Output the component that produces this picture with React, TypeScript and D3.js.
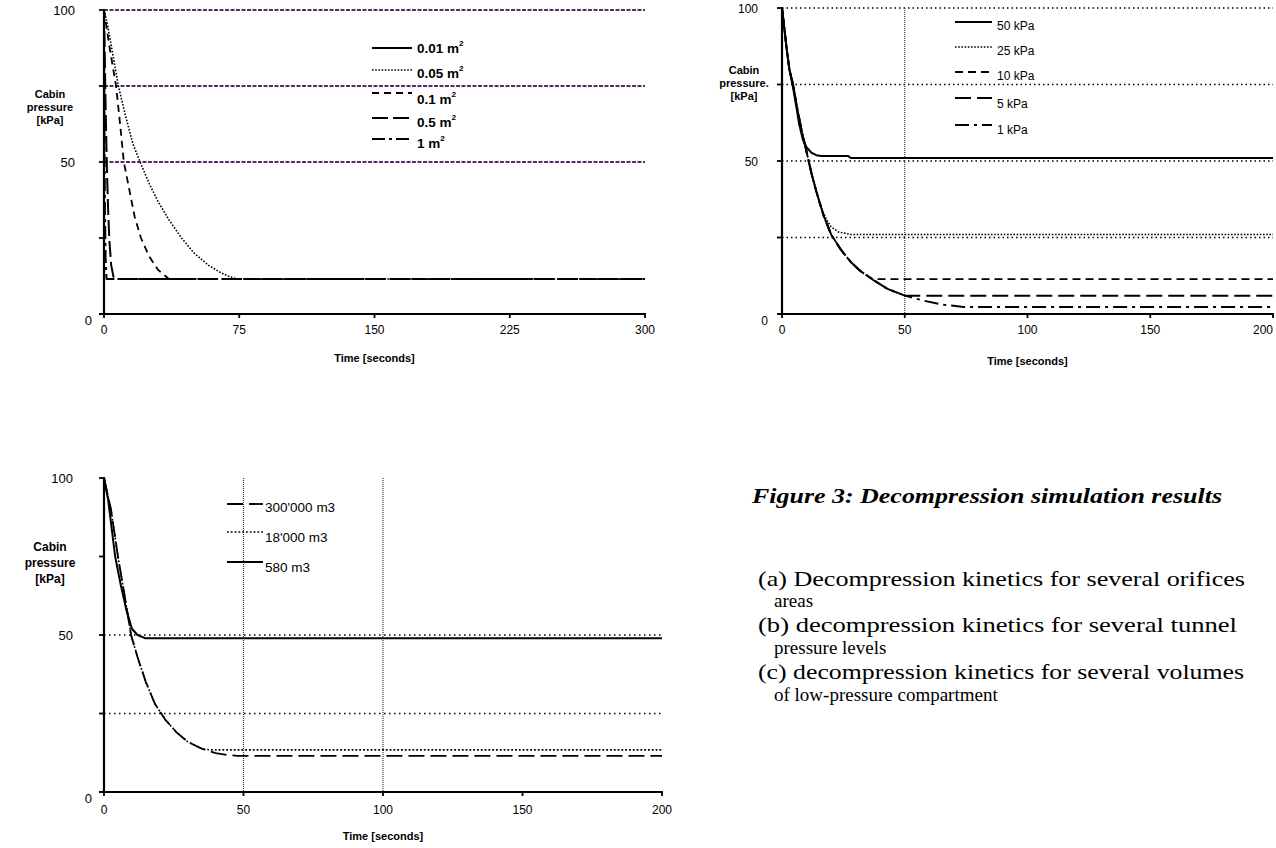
import React from "react";
import * as d3 from "d3";

type Pt = [number, number];

const SANS = "'Liberation Sans', Arial, sans-serif";
const SERIF = "'Liberation Serif', 'Times New Roman', serif";

// ---------------- Panel (a): several orifice areas ----------------
const aXTicks = [0, 75, 150, 225, 300];
const aYTicks = [0, 25, 50, 75, 100];
const aYTickLabels = [0, 50, 100];
const aGridLevels = [50, 75, 100];
const aLegendLabels = ["0.01 m", "0.05 m", "0.1 m", "0.5 m", "1 m"];
const a001: Pt[] = [];
const a005: Pt[] = [[0, 100], [2, 95], [5, 85], [8, 75], [12, 65], [16, 56], [20, 50], [25, 43], [30, 37], [36, 31], [43, 25], [50, 20], [58, 16], [65, 13.5], [70, 12.2], [74, 11.5], [300, 11.5]];
const a01: Pt[] = [[0, 100], [3, 88], [6.7, 75], [9, 62], [11, 50], [14, 41], [17, 32], [20.5, 25], [25, 19], [30, 14.5], [36, 11.5], [300, 11.5]];
const a05: Pt[] = [[0, 100], [0.5, 82], [1, 65], [1.6, 48], [2.3, 34], [3, 24], [4, 16], [5.5, 11.5], [300, 11.5]];
const a1: Pt[] = [[0, 100], [0.2, 65], [0.5, 35], [0.9, 18], [1.4, 11.5], [300, 11.5]];

// ---------------- Panel (b): several tunnel pressure levels ----------------
const bXTicks = [0, 50, 100, 150, 200];
const bYTicks = [0, 25, 50, 75, 100];
const bYTickLabels = [0, 50, 100];
const bGridLevels = [25, 50, 75, 100];
const bGridTimes = [50];
const bLegendLabels = ["50 kPa", "25 kPa", "10 kPa", "5 kPa", "1 kPa"];
const b50: Pt[] = [[0, 100], [1, 93], [2, 86], [3, 80], [4.5, 74], [6, 67], [7, 62], [8.5, 57], [10, 54.5], [12, 52.7], [14, 51.9], [16, 51.6], [27, 51.6], [28, 51], [200, 51]];
const b25: Pt[] = [[0, 100], [1, 93], [2, 86], [3, 80], [4.5, 75], [6, 68], [8, 60], [10, 53], [12, 46], [14, 40], [16, 35], [18, 31], [20, 28.5], [23, 26.8], [28, 26], [200, 26]];
const b10: Pt[] = [[0, 100], [1, 93], [2, 86], [3, 80], [4.5, 75], [6, 68], [8, 60], [10, 53], [12, 46], [14, 40], [17, 32], [20, 26], [24, 21], [28, 17], [32, 14], [37, 11.4], [200, 11.4]];
const b5: Pt[] = [[0, 100], [1, 93], [2, 86], [3, 80], [4.5, 75], [6, 68], [8, 60], [10, 53], [12, 46], [14, 40], [17, 32], [20, 26], [24, 21], [28, 17], [32, 14], [37, 11.2], [43, 8.2], [50, 6], [200, 6]];
const b1: Pt[] = [[0, 100], [1, 93], [2, 86], [3, 80], [4.5, 75], [6, 68], [8, 60], [10, 53], [12, 46], [14, 40], [17, 32], [20, 26], [24, 21], [28, 17], [32, 14], [37, 11.2], [43, 8.2], [50, 6], [58, 4.3], [66, 3], [74, 2.3], [200, 2.3]];

// ---------------- Panel (c): several compartment volumes ----------------
const cXTicks = [0, 50, 100, 150, 200];
const cYTicks = [0, 25, 50, 75, 100];
const cYTickLabels = [0, 50, 100];
const cGridLevels = [25, 50];
const cGridTimes = [50, 100];
const cLegendLabels = ["300'000 m3", "18'000 m3", "580 m3"];
const c300000: Pt[] = [[0, 100], [2.5, 90], [5, 75], [7.5, 62], [9.7, 50], [12, 43], [15, 35], [18.3, 28], [22, 23], [26, 19], [30, 16], [35, 13.8], [40, 12.4], [44, 11.8], [48, 11.5], [200, 11.5]];
const c18000: Pt[] = [[0, 100], [2.5, 90], [5, 75], [7.5, 62], [9.7, 50], [12, 43], [15, 35], [18.3, 28], [22, 23], [26, 19], [30, 16], [35, 13.8], [38, 13.4], [200, 13.4]];
const c580: Pt[] = [[0, 100], [1.5, 93], [4, 75], [6, 66], [8, 58], [10, 52], [12, 50], [14.7, 49], [200, 49]];

// ---------------- Caption ----------------
const captionTitle = "Figure 3: Decompression simulation results";
const captionLines = [
  "(a) Decompression kinetics  for several orifices",
  "areas",
  "(b) decompression kinetics for several tunnel",
  "pressure levels",
  "(c) decompression kinetics for several volumes",
  "of low-pressure compartment",
];

interface Style { dash: string; width: number; color?: string }
interface LegendRow { label: string; sup?: string; style: Style; ly: number; ty: number }

interface PanelCfg {
  id: string;
  left: number; right: number; top: number; bottom: number;
  xMax: number;
  xTicks: number[]; yTicks: number[]; yTickLabels: number[];
  hGrid: number[]; hGridStyle: Style;
  vGrid: number[]; vGridStyle: Style;
  series: { data: Pt[]; style: Style }[];
  yLabel: string[]; yLabelX: number; yLabelY0: number; yLabelDy: number; yLabelSize: number;
  xLabel: string; xLabelY: number; xLabelSize: number;
  legend: LegendRow[]; legX0: number; legX1: number; legTextX: number;
  legSize: number; legBold: boolean;
  tickSize: number; yTickSize: number; xTickDy: number; yLabelOff: number; zeroOff: number; lastTickEnd?: boolean;
}

function Panel({ c }: { c: PanelCfg }) {
  const x = d3.scaleLinear().domain([0, c.xMax]).range([c.left, c.right]);
  const y = d3.scaleLinear().domain([0, 100]).range([c.bottom, c.top]);
  const line = d3.line<Pt>().x((d) => x(d[0])).y((d) => y(d[1]));
  const clipId = "clip-" + c.id;
  return (
    <g>
      <defs>
        <clipPath id={clipId}>
          <rect x={c.left} y={c.top - 2} width={c.right - c.left + 2} height={c.bottom - c.top + 2} />
        </clipPath>
      </defs>
      {c.hGrid.map((v) => (
        <line key={"h" + v} x1={x(0)} x2={x(c.xMax)} y1={y(v)} y2={y(v)}
          stroke={c.hGridStyle.color || "#000"} strokeWidth={c.hGridStyle.width} strokeDasharray={c.hGridStyle.dash} />
      ))}
      {c.vGrid.map((v) => (
        <line key={"v" + v} x1={x(v)} x2={x(v)} y1={y(100)} y2={y(0)}
          stroke={c.vGridStyle.color || "#000"} strokeWidth={c.vGridStyle.width} strokeDasharray={c.vGridStyle.dash} />
      ))}
      <g clipPath={`url(#${clipId})`}>
        {c.series.map((s, i) => s.data.length > 0 && (
          <path key={i} d={line(s.data) || ""} fill="none" stroke="#000"
            strokeWidth={s.style.width} strokeDasharray={s.style.dash} strokeLinejoin="round" />
        ))}
      </g>
      <line x1={x(0)} x2={x(0)} y1={y(100) - 1} y2={y(0) + 1} stroke="#000" strokeWidth={2.2} />
      <line x1={x(0) - 5} x2={x(c.xMax) + 1} y1={y(0)} y2={y(0)} stroke="#000" strokeWidth={2.2} />
      {c.yTicks.map((v) => (
        <line key={"yt" + v} x1={x(0) - 5} x2={x(0)} y1={y(v)} y2={y(v)} stroke="#000" strokeWidth={1.8} />
      ))}
      {c.xTicks.map((v) => (
        <line key={"xt" + v} x1={x(v)} x2={x(v)} y1={y(0)} y2={y(0) + 4} stroke="#000" strokeWidth={1.8} />
      ))}
      {c.yTickLabels.map((v) => (
        <text key={"yl" + v} x={x(0) - (v === 0 ? c.zeroOff : c.yLabelOff)} y={y(v) + (v === 0 ? 11 : 5)} textAnchor="end"
          fontFamily={SANS} fontSize={c.yTickSize} fill="#000">{v}</text>
      ))}
      {c.xTicks.map((v, i) => {
        const isLast = c.lastTickEnd && i === c.xTicks.length - 1;
        return (
          <text key={"xl" + v} x={x(v)} y={y(0) + c.xTickDy} textAnchor={isLast ? "end" : "middle"}
            fontFamily={SANS} fontSize={c.tickSize} fill="#000">{v}</text>
        );
      })}
      {c.yLabel.map((t, i) => (
        <text key={"ylab" + i} x={c.yLabelX} y={c.yLabelY0 + i * c.yLabelDy} textAnchor="middle" fontFamily={SANS}
          fontWeight="bold" fontSize={c.yLabelSize} fill="#000">{t}</text>
      ))}
      <text x={(c.left + c.right) / 2} y={c.xLabelY} textAnchor="middle" fontFamily={SANS} fontWeight="bold"
        fontSize={c.xLabelSize} fill="#000">{c.xLabel}</text>
      {c.legend.map((r, i) => (
        <g key={"lg" + i}>
          <line x1={c.legX0} x2={c.legX1} y1={r.ly} y2={r.ly} stroke="#000" strokeWidth={r.style.width} strokeDasharray={r.style.dash} />
          <text x={c.legTextX} y={r.ty} fontFamily={SANS} fontSize={c.legSize} fontWeight={c.legBold ? "bold" : "normal"} fill="#000">
            {r.label}
            {r.sup && <tspan fontSize={c.legSize * 0.6} dy={-7}>{r.sup}</tspan>}
          </text>
        </g>
      ))}
    </g>
  );
}

const solid: Style = { dash: "none", width: 2 };
const dotted: Style = { dash: "1.6,1.6", width: 1.6 };
const dashed: Style = { dash: "7,5", width: 1.8 };
const longDash: Style = { dash: "16,5", width: 2 };
const dashDot: Style = { dash: "13,4,3,4", width: 2 };

const panelA: PanelCfg = {
  id: "a", left: 104, right: 645, top: 10, bottom: 314, xMax: 300,
  xTicks: aXTicks, yTicks: aYTicks, yTickLabels: aYTickLabels,
  hGrid: aGridLevels, hGridStyle: { dash: "4,1.5", width: 2, color: "#5b2d66" },
  vGrid: [], vGridStyle: solid,
  series: [
    { data: a001, style: solid },
    { data: a005, style: dotted },
    { data: a01, style: dashed },
    { data: a05, style: longDash },
    { data: a1, style: dashDot },
  ],
  yLabel: ["Cabin", "pressure", "[kPa]"], yLabelX: 50, yLabelY0: 98, yLabelDy: 13, yLabelSize: 11,
  xLabel: "Time [seconds]", xLabelY: 362, xLabelSize: 11,
  legend: [
    { label: aLegendLabels[0], sup: "2", style: solid, ly: 48, ty: 53 },
    { label: aLegendLabels[1], sup: "2", style: dotted, ly: 70, ty: 78 },
    { label: aLegendLabels[2], sup: "2", style: dashed, ly: 93, ty: 104 },
    { label: aLegendLabels[3], sup: "2", style: longDash, ly: 118, ty: 127 },
    { label: aLegendLabels[4], sup: "2", style: dashDot, ly: 139, ty: 148 },
  ],
  legX0: 372, legX1: 412, legTextX: 417, legSize: 13.5, legBold: true,
  tickSize: 12, yTickSize: 13, xTickDy: 20, yLabelOff: 29, zeroOff: 12,
};

const panelB: PanelCfg = {
  id: "b", left: 782, right: 1273, top: 8, bottom: 314, xMax: 200,
  xTicks: bXTicks, yTicks: bYTicks, yTickLabels: bYTickLabels,
  hGrid: bGridLevels, hGridStyle: { dash: "1.5,3", width: 1.3 },
  vGrid: bGridTimes, vGridStyle: { dash: "1,1", width: 1.2, color: "#333" },
  series: [
    { data: b50, style: solid },
    { data: b25, style: dotted },
    { data: b10, style: { dash: "8,5", width: 1.8 } },
    { data: b5, style: { dash: "16,6", width: 2 } },
    { data: b1, style: { dash: "14,5,3,5", width: 2 } },
  ],
  yLabel: ["Cabin", "pressure.", "[kPa]"], yLabelX: 744, yLabelY0: 74, yLabelDy: 13, yLabelSize: 11,
  xLabel: "Time [seconds]", xLabelY: 365, xLabelSize: 11,
  legend: [
    { label: bLegendLabels[0], style: solid, ly: 22, ty: 30 },
    { label: bLegendLabels[1], style: dotted, ly: 47, ty: 55 },
    { label: bLegendLabels[2], style: { dash: "8,5", width: 1.8 }, ly: 72, ty: 80 },
    { label: bLegendLabels[3], style: { dash: "16,6", width: 2 }, ly: 98, ty: 108 },
    { label: bLegendLabels[4], style: { dash: "14,5,3,5", width: 2 }, ly: 125, ty: 134 },
  ],
  legX0: 955, legX1: 992, legTextX: 997, legSize: 12, legBold: false,
  tickSize: 12, yTickSize: 12, xTickDy: 20, yLabelOff: 24, zeroOff: 14, lastTickEnd: true,
};

const panelC: PanelCfg = {
  id: "c", left: 104, right: 662, top: 478, bottom: 792, xMax: 200,
  xTicks: cXTicks, yTicks: cYTicks, yTickLabels: cYTickLabels,
  hGrid: cGridLevels, hGridStyle: { dash: "1.5,3.5", width: 1.3 },
  vGrid: cGridTimes, vGridStyle: { dash: "1,1", width: 1.2, color: "#333" },
  series: [
    { data: c300000, style: { dash: "16,6", width: 1.8 } },
    { data: c18000, style: { dash: "1.8,2", width: 1.6 } },
    { data: c580, style: solid },
  ],
  yLabel: ["Cabin", "pressure", "[kPa]"], yLabelX: 50, yLabelY0: 551, yLabelDy: 16, yLabelSize: 12,
  xLabel: "Time [seconds]", xLabelY: 840, xLabelSize: 11,
  legend: [
    { label: cLegendLabels[0], style: { dash: "16,6", width: 1.8 }, ly: 504, ty: 512 },
    { label: cLegendLabels[1], style: { dash: "1.8,2", width: 1.6 }, ly: 532, ty: 542 },
    { label: cLegendLabels[2], style: solid, ly: 562, ty: 572 },
  ],
  legX0: 227, legX1: 263, legTextX: 265, legSize: 13.5, legBold: false,
  tickSize: 12, yTickSize: 13, xTickDy: 22, yLabelOff: 31, zeroOff: 12,
};

export default function App() {
  const lineY = [586, 607, 632, 654, 679, 701];
  const lineLen = [487, 0, 479, 0, 486, 0];
  return (
    <svg width={1276} height={848} viewBox="0 0 1276 848"
      style={{ position: "absolute", left: 0, top: 0, background: "#fff" }}>
      <rect x={0} y={0} width={1276} height={848} fill="#fff" />
      <Panel c={panelA} />
      <Panel c={panelB} />
      <Panel c={panelC} />
      <text x={752} y={503} fontFamily={SERIF} fontWeight="bold" fontStyle="italic" fontSize={22}
        textLength={470} lengthAdjust="spacingAndGlyphs" fill="#000">{captionTitle}</text>
      {captionLines.map((t, i) =>
        lineLen[i] ? (
          <text key={i} x={758} y={lineY[i]} fontFamily={SERIF} fontSize={21}
            textLength={lineLen[i]} lengthAdjust="spacingAndGlyphs" fill="#000">{t}</text>
        ) : (
          <text key={i} x={774} y={lineY[i]} fontFamily={SERIF} fontSize={19} fill="#000">{t}</text>
        )
      )}
    </svg>
  );
}
